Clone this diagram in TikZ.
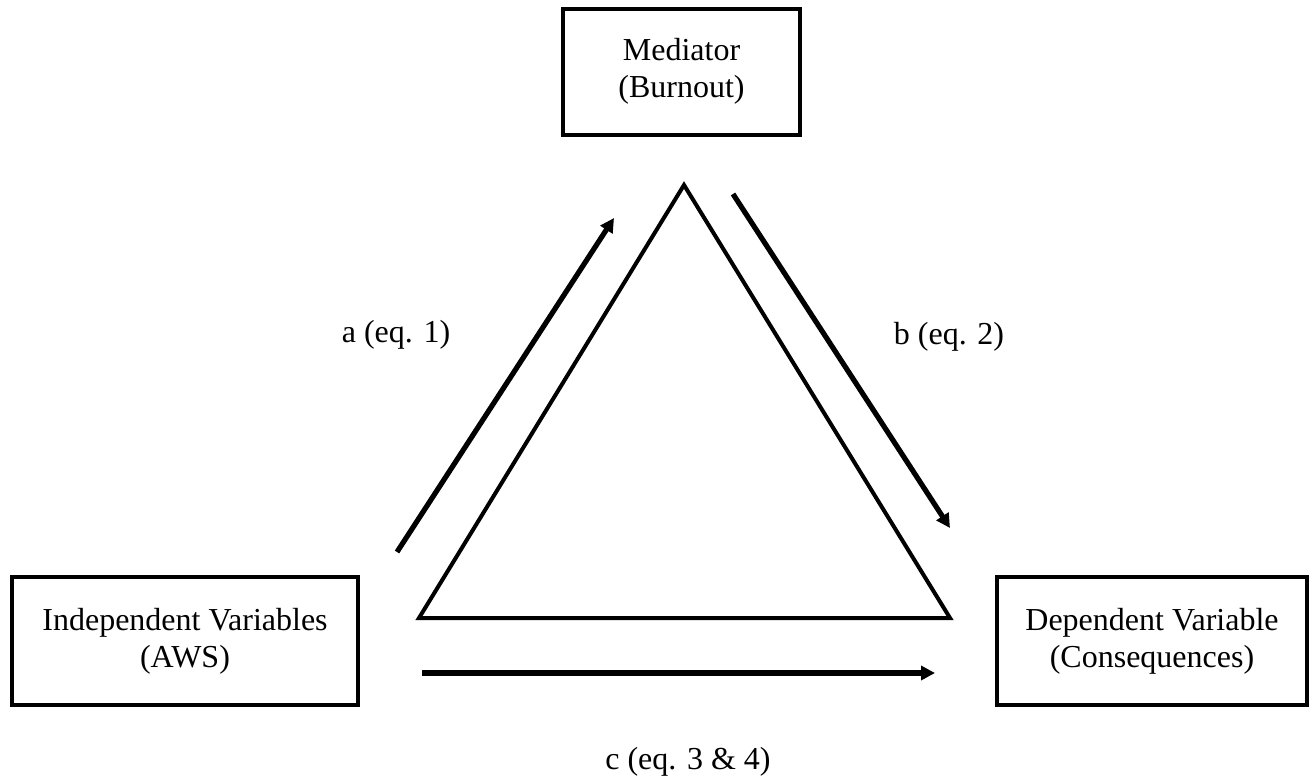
\documentclass[tikz,border=0pt]{standalone}
\usepackage{fontspec}
\setmainfont{Liberation Serif}
\usetikzlibrary{arrows.meta,shadows}
\begin{document}
\begin{tikzpicture}[x=0.5pt,y=-0.5pt,
  every node/.style={font=\fontsize{16}{18.5}\selectfont, align=center},
  varbox/.style={draw=black, line width=2pt, fill=white, inner sep=0pt,
    drop shadow={opacity=0.25, shadow xshift=1pt, shadow yshift=-1pt}},
  tri/.style={draw=black, line width=2pt, line join=miter},
  path arrow/.style={line width=2.6pt, -{Triangle[length=7pt,width=7pt]}},
  eqlabel/.style={inner sep=0pt}]
\useasboundingbox (0,0) rectangle (1312,782);
% boxes
\node[varbox, minimum width=118.5pt, minimum height=63pt] (med) at (681.5,71.5) {Mediator\\(Burnout)};
\node[varbox, minimum width=173pt, minimum height=64pt] (iv) at (185,641) {Independent Variables\\(AWS)};
\node[varbox, minimum width=155pt, minimum height=64pt] (dv) at (1152,641) {Dependent Variable\\(Consequences)};
% triangle
\coordinate (tA) at (684,185);
\coordinate (tL) at (419,618);
\coordinate (tR) at (950,618);
\draw[tri] (tA) -- (tL) -- (tR) -- cycle;
% arrows
\coordinate (a1) at (397,552);
\coordinate (a2) at (614,218);
\coordinate (b1) at (733,194);
\coordinate (b2) at (950,528);
\coordinate (c1) at (422,673);
\coordinate (c2) at (935,673);
\draw[path arrow] (a1) -- (a2);
\draw[path arrow] (b1) -- (b2);
\draw[path arrow] (c1) -- (c2);
% labels
\node[eqlabel] (la) at (396,335) {a (eq. 1)};
\node[eqlabel] (lb) at (949,337) {b (eq. 2)};
\node[eqlabel] (lc) at (688,762) {c (eq. 3 \& 4)};
\end{tikzpicture}
\end{document}
